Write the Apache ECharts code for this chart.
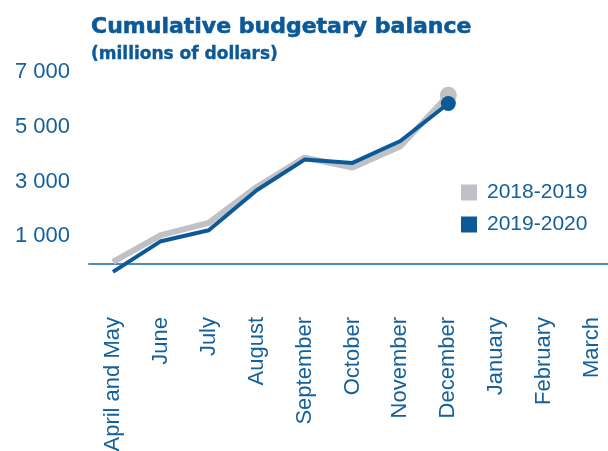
<!DOCTYPE html>
<html>
<head>
<meta charset="utf-8">
<style>
  html, body { margin: 0; padding: 0; background: #ffffff; }
  #chart { width: 608px; height: 451px; }
</style>
<script src="https://cdn.jsdelivr.net/npm/echarts@6/dist/echarts.min.js"></script>
</head>
<body>
<div id="chart"></div>
<script>
// Fiscal-year months (April and May reported together)
const months = ['April and May', 'June', 'July', 'August', 'September', 'October',
  'November', 'December', 'January', 'February', 'March'];

// Cumulative budgetary balance, millions of dollars
const balance2018 = [60, 1040, 1490, 2800, 3870, 3510, 4290, 6150];
const balance2019 = [-300, 820, 1220, 2680, 3800, 3680, 4480, 5850];

// Labelled values on the vertical axis
const yTickValues = [1000, 3000, 5000, 7000];

const BLUE = '#0b5a97';
const TEXT_BLUE = '#15609b';
const GREY = '#bfc1c6';
const SANS = "'Liberation Sans', Arial, sans-serif";
const HEAVY = "'DejaVu Sans', sans-serif";

// Only the latest month gets a round end marker
function withEndMarker(values, size) {
  return values.map((v, i) => i === values.length - 1
    ? { value: v, symbol: 'circle', symbolSize: size }
    : { value: v, symbol: 'none' });
}

const chart = echarts.init(document.getElementById('chart'), null, { renderer: 'canvas' });

chart.setOption({
  animation: false,
  backgroundColor: '#ffffff',
  title: [
    {
      text: 'Cumulative budgetary balance',
      left: 86, top: 11,
      textStyle: {
        fontFamily: HEAVY, fontWeight: 'bold', fontSize: 22, color: BLUE,
        textBorderColor: BLUE, textBorderWidth: 0.6
      }
    },
    {
      text: '(millions of dollars)',
      left: 86, top: 41,
      textStyle: {
        fontFamily: HEAVY, fontWeight: 'bold', fontSize: 17, color: BLUE,
        textBorderColor: BLUE, textBorderWidth: 0.4
      }
    }
  ],
  legend: {
    orient: 'vertical',
    left: 456, top: 177,
    itemWidth: 16, itemHeight: 16, itemGap: 11,
    icon: 'rect',
    textStyle: {
      fontFamily: SANS, fontSize: 21, color: TEXT_BLUE,
      padding: [0, 0, 0, 5]
    },
    data: ['2018-2019', '2019-2020']
  },
  grid: {
    left: 89, top: 72, width: 527, height: 219,
    containLabel: false,
    outerBoundsMode: 'none'
  },
  xAxis: {
    type: 'category',
    data: months,
    boundaryGap: true,
    axisLine: { onZero: true, lineStyle: { color: '#5089bb', width: 2 } },
    axisTick: { show: false },
    splitLine: { show: false },
    axisLabel: {
      interval: 0, rotate: 90, margin: 26,
      fontFamily: SANS, fontSize: 22, color: TEXT_BLUE
    }
  },
  yAxis: {
    type: 'value',
    min: -1000, max: 7000, interval: 1000,
    axisLine: { show: false },
    axisTick: { show: false },
    splitLine: { show: false },
    axisLabel: {
      customValues: yTickValues,
      margin: 19,
      fontFamily: SANS, fontSize: 22, color: TEXT_BLUE,
      formatter: v => String(v).replace(/\B(?=(\d{3})+(?!\d))/g, ' ')
    }
  },
  series: [
    {
      name: '2018-2019',
      type: 'line',
      data: withEndMarker(balance2018, 17),
      color: GREY,
      lineStyle: { color: GREY, width: 6 },
      itemStyle: { color: GREY },
      z: 2
    },
    {
      name: '2019-2020',
      type: 'line',
      data: withEndMarker(balance2019, 15),
      color: BLUE,
      lineStyle: { color: BLUE, width: 4 },
      itemStyle: { color: BLUE },
      z: 3
    }
  ]
});
</script>
</body>
</html>
